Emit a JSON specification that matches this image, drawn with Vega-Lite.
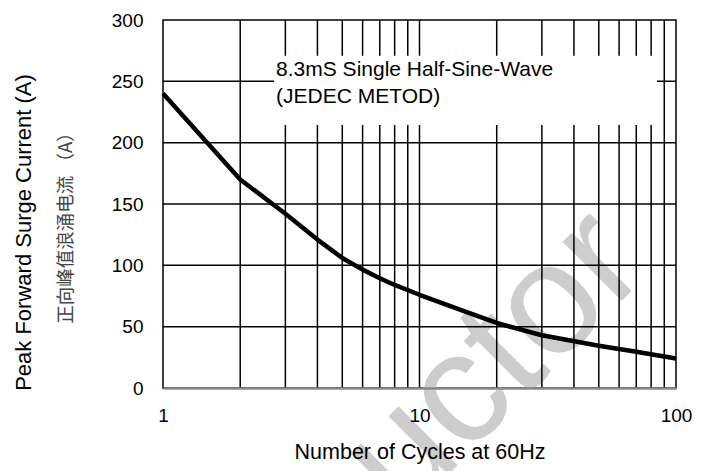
{
  "$schema": "https://vega.github.io/schema/vega-lite/v6.json",
  "width": 513,
  "height": 368,
  "autosize": {"type": "none"},
  "padding": {"left": 163, "top": 20, "right": 34, "bottom": 83},
  "background": "white",
  "config": {
    "view": {"stroke": "#000", "strokeWidth": 1.5},
    "font": "Liberation Sans",
    "axis": {
      "grid": false, "ticks": false, "tickSize": 0, "domain": false,
      "labelFont": "Liberation Sans", "labelFontSize": 19, "labelColor": "#000",
      "titleFont": "Liberation Sans", "titleFontWeight": "normal", "titleColor": "#000",
      "labelFlush": false, "zindex": 1
    },
    "axisX": {
      "domain": true, "domainColor": "#8a8a8a", "domainWidth": 2.5,
      "labelPadding": 18, "titleFontSize": 21.5, "titleY": 64, "titleBaseline": "middle"
    },
    "axisY": {
      "labelPadding": 20, "titleFontSize": 22, "titleAngle": -90,
      "titleX": -133, "titleY": 212, "titleBaseline": "alphabetic"
    }
  },
  "datasets": {
    "curve": [
      {"x": 1, "y": 240}, {"x": 2, "y": 170}, {"x": 3, "y": 142}, {"x": 4, "y": 121},
      {"x": 5, "y": 106}, {"x": 6, "y": 96.5}, {"x": 7, "y": 89.5}, {"x": 8, "y": 84},
      {"x": 10, "y": 76}, {"x": 15, "y": 62.5}, {"x": 20, "y": 53}, {"x": 30, "y": 43},
      {"x": 50, "y": 34.5}, {"x": 70, "y": 29.5}, {"x": 100, "y": 24}
    ],
    "vgrid": [
      {"x": 2}, {"x": 3}, {"x": 4}, {"x": 5}, {"x": 6}, {"x": 7}, {"x": 8}, {"x": 9},
      {"x": 10}, {"x": 20}, {"x": 30}, {"x": 40}, {"x": 50}, {"x": 60}, {"x": 70}, {"x": 80}, {"x": 90}
    ],
    "hgrid": [{"y": 50}, {"y": 100}, {"y": 150}, {"y": 200}, {"y": 250}],
    "box": [{"x": 2.71, "x2": 84.3, "y": 214.4, "y2": 270.9}],
    "note": [
      {"x": 2.76, "y": 259, "label": "8.3mS Single Half-Sine-Wave"},
      {"x": 2.76, "y": 237, "label": "(JEDEC METOD)"}
    ],
    "mark": [{"x": 19.5, "y": 21, "label": "uctor"}]
  },
  "layer": [
    {
      "data": {"name": "mark"},
      "mark": {"type": "text", "font": "Liberation Sans", "fontSize": 158, "angle": -45, "color": "#cdcdcd", "align": "center", "baseline": "middle"},
      "encoding": {
        "x": {"field": "x", "type": "quantitative", "scale": {"type": "log", "domain": [1, 100]}, "title": "Number of Cycles at 60Hz", "axis": {"values": [1, 10, 100], "format": "d", "zindex": 2}},
        "y": {"field": "y", "type": "quantitative", "scale": {"domain": [0, 300]},
          "axis": {"orient": "left", "labels": false, "ticks": false, "domain": false, "grid": false, "zindex": 2,
            "title": "正向峰值浪涌电流 （A）", "titleFont": "Noto Sans CJK SC", "titleFontSize": 18.5,
            "titleColor": "#444", "titleX": -98, "titleY": 203, "titleBaseline": "middle", "titleAngle": -90}},
        "text": {"field": "label"}
      }
    },
    {
      "layer": [
        {
          "data": {"name": "vgrid"},
          "mark": {"type": "rule", "color": "#000", "strokeWidth": 1.5},
          "encoding": {
            "x": {"field": "x", "type": "quantitative", "scale": {"type": "log", "domain": [1, 100]}, "title": "Number of Cycles at 60Hz", "axis": {"values": [1, 10, 100], "format": "d", "zindex": 2}}
          }
        },
        {
          "data": {"name": "hgrid"},
          "mark": {"type": "rule", "color": "#000", "strokeWidth": 1.5},
          "encoding": {
            "y": {"field": "y", "type": "quantitative", "scale": {"domain": [0, 300]}, "title": "Peak Forward Surge Current (A)", "axis": {"orient": "left", "values": [0, 50, 100, 150, 200, 250, 300], "zindex": 2}}
          }
        },
        {
          "data": {"name": "box"},
          "mark": {"type": "rect", "fill": "white", "stroke": null},
          "encoding": {
            "x": {"field": "x", "type": "quantitative", "scale": {"type": "log", "domain": [1, 100]}, "title": "Number of Cycles at 60Hz"},
            "x2": {"field": "x2"},
            "y": {"field": "y", "type": "quantitative", "scale": {"domain": [0, 300]}, "title": "Peak Forward Surge Current (A)"},
            "y2": {"field": "y2"}
          }
        },
        {
          "data": {"name": "note"},
          "mark": {"type": "text", "font": "Liberation Sans", "fontSize": 21, "align": "left", "baseline": "middle", "color": "#000"},
          "encoding": {
            "x": {"field": "x", "type": "quantitative", "scale": {"type": "log", "domain": [1, 100]}, "title": "Number of Cycles at 60Hz"},
            "y": {"field": "y", "type": "quantitative", "scale": {"domain": [0, 300]}, "title": "Peak Forward Surge Current (A)"},
            "text": {"field": "label"}
          }
        },
        {
          "data": {"name": "curve"},
          "mark": {"type": "line", "color": "#000", "strokeWidth": 4.5, "strokeJoin": "round"},
          "encoding": {
            "x": {"field": "x", "type": "quantitative", "scale": {"type": "log", "domain": [1, 100]}, "title": "Number of Cycles at 60Hz"},
            "y": {"field": "y", "type": "quantitative", "scale": {"domain": [0, 300]}, "title": "Peak Forward Surge Current (A)"}
          }
        }
      ]
    }
  ],
  "resolve": {"scale": {"y": "independent"}}
}
